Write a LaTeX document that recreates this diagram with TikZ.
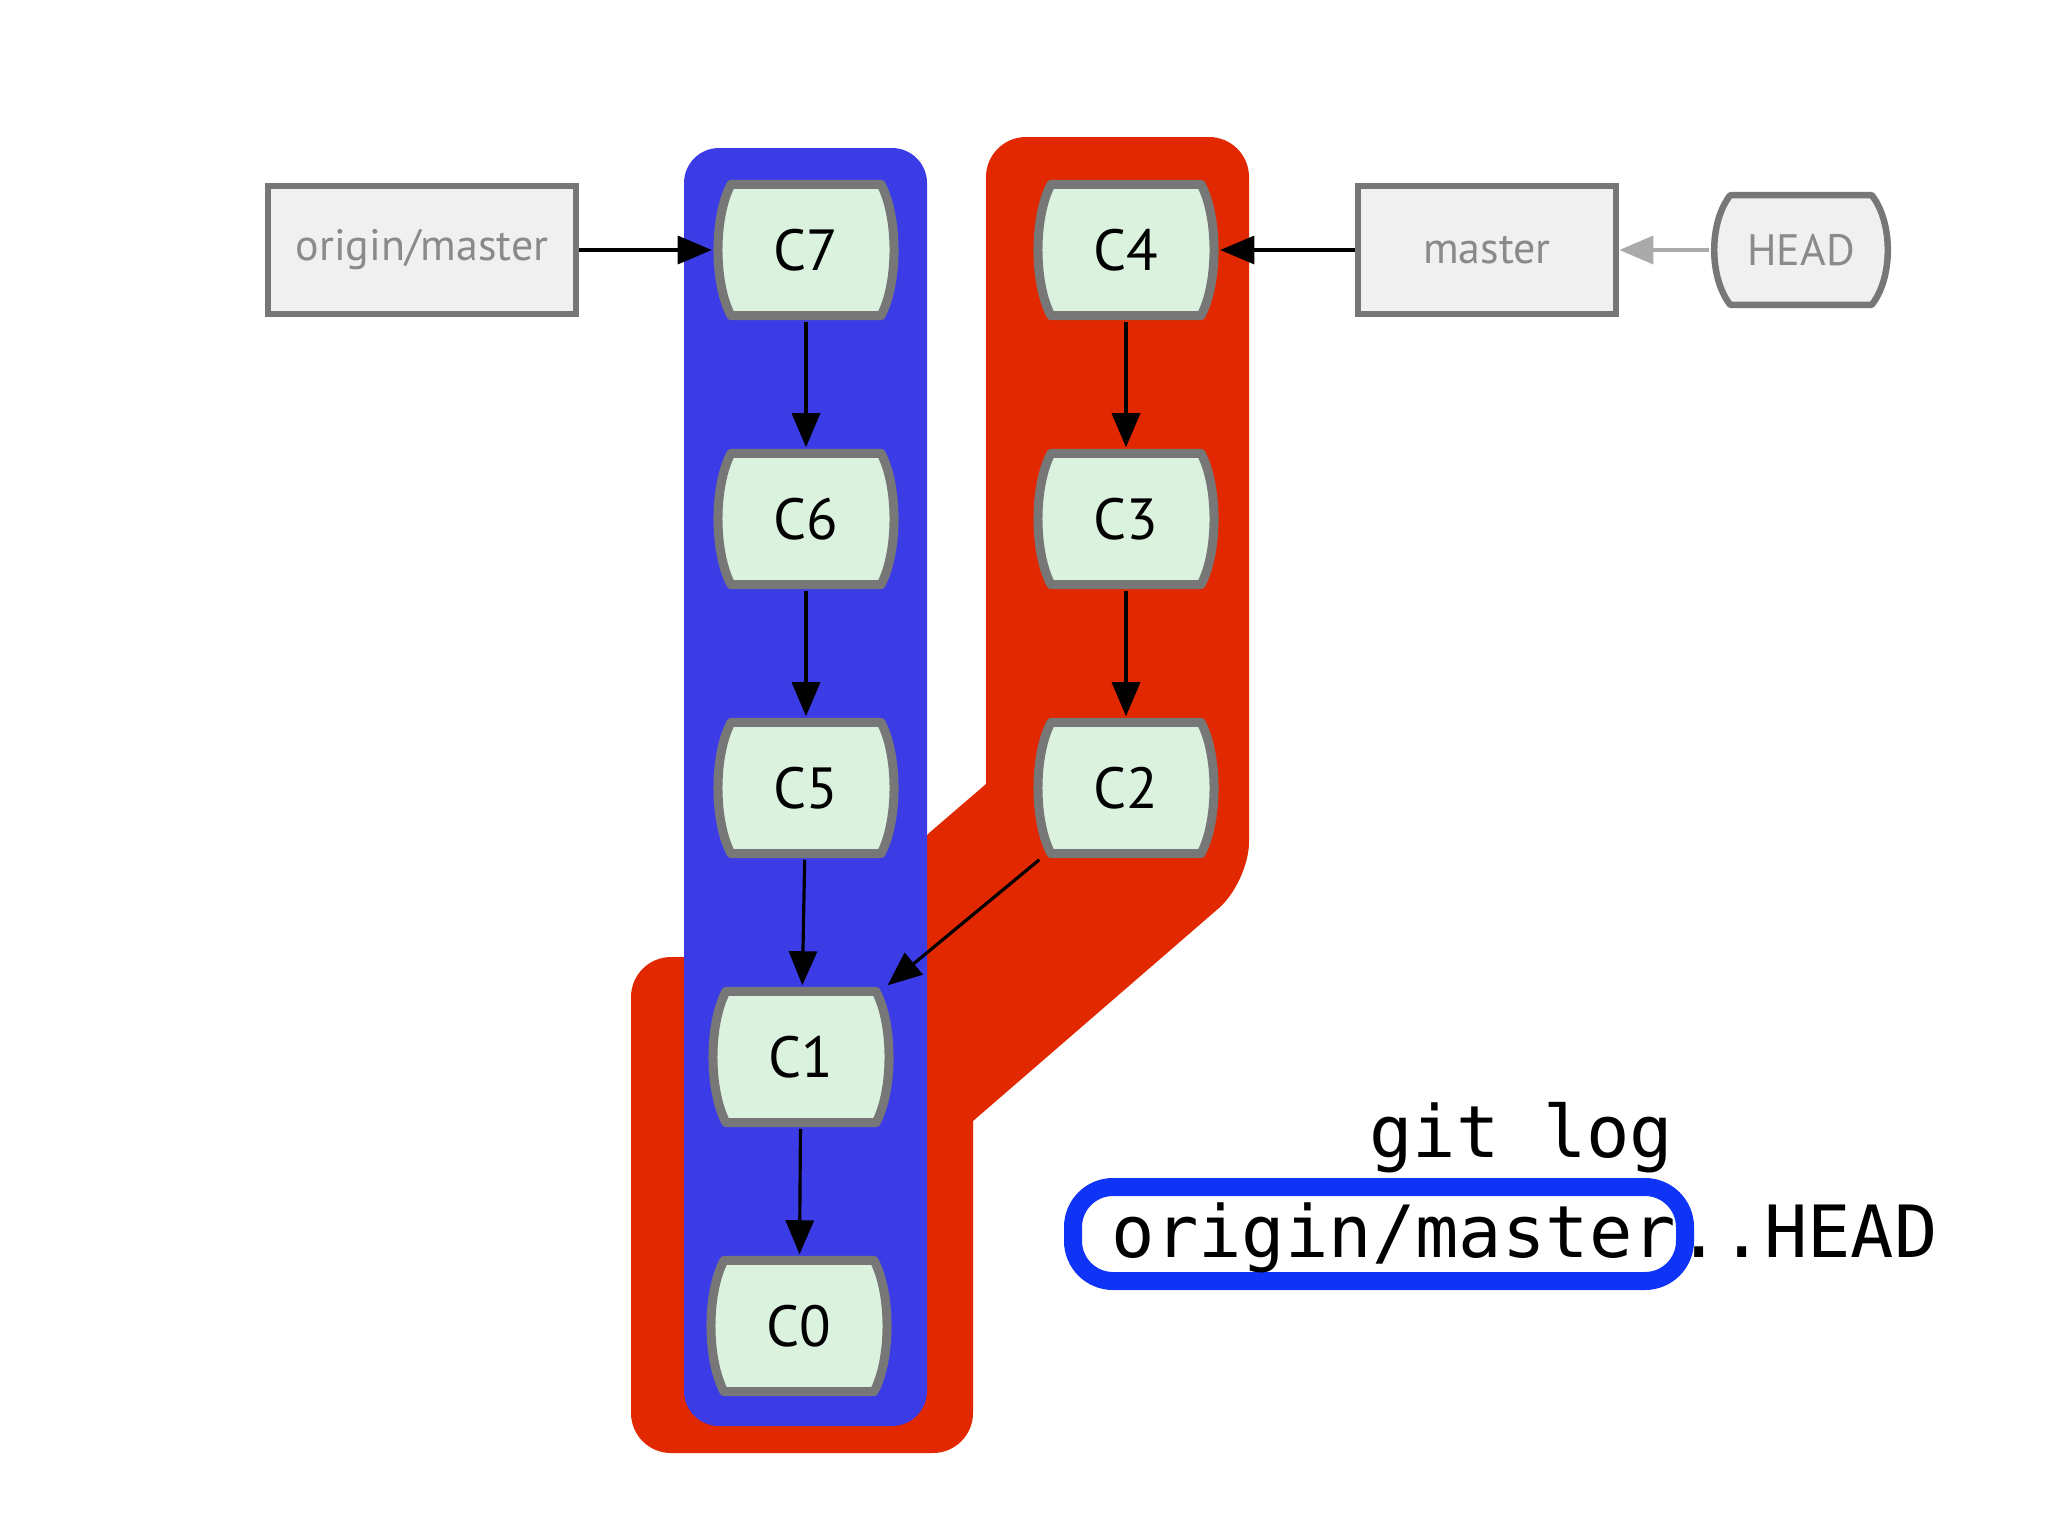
\documentclass[tikz,border=0pt]{standalone}
\usepackage{fontspec}
\setmainfont{PT Sans}
\newfontfamily\gitmono{DejaVu Sans Mono}
\usepackage{xcolor}
\usepackage{tikz}
\usetikzlibrary{arrows.meta}
\definecolor{commitfill}{HTML}{DBF2DE}
\definecolor{border}{HTML}{777777}
\definecolor{branchfill}{HTML}{F0F0F0}
\definecolor{branchtext}{HTML}{8A8A8A}
\definecolor{headarrow}{HTML}{AAAAAA}
\definecolor{logred}{HTML}{E22800}
\definecolor{logblue}{HTML}{3C3CE6}
\definecolor{hlblue}{HTML}{1034F7}
\pgfdeclarelayer{sets}
\pgfdeclarelayer{shapes}
\pgfsetlayers{sets,shapes,main}
\tikzset{
  commit/.style={rectangle, minimum width=1.87cm, minimum height=1.42cm, inner sep=0pt,
    font=\fontsize{16.5}{18}\selectfont},
  commitshape/.style={draw=border, fill=commitfill, line width=0.09cm, line join=round,
    insert path={(-0.75cm,0.655cm) -- (0.75cm,0.655cm)
      .. controls (0.923cm,0.3275cm) and (0.923cm,-0.3275cm) .. (0.75cm,-0.655cm)
      -- (-0.75cm,-0.655cm)
      .. controls (-0.923cm,-0.3275cm) and (-0.923cm,0.3275cm) .. cycle}},
  branch/.style={rectangle, draw=border, fill=branchfill, line width=0.065cm, text=branchtext,
    minimum height=1.28cm, inner sep=0pt, font=\fontsize{12.5}{14}\selectfont},
  headref/.style={rectangle, minimum width=1.82cm, minimum height=1.18cm, inner sep=0pt,
    text=branchtext, font=\fontsize{12.5}{14}\selectfont},
  headshape/.style={draw=border, fill=branchfill, line width=0.065cm, line join=round,
    insert path={(-0.7075cm,0.5475cm) -- (0.7075cm,0.5475cm)
      .. controls (0.9208cm,0.274cm) and (0.9208cm,-0.274cm) .. (0.7075cm,-0.5475cm)
      -- (-0.7075cm,-0.5475cm)
      .. controls (-0.9208cm,-0.274cm) and (-0.9208cm,0.274cm) .. cycle}},
  link/.style={draw=black, line width=0.9pt, -{Triangle[length=0.34cm,width=0.28cm]}},
  headlink/.style={link, draw=headarrow, line width=1.1pt},
  redset/.style={fill=logred},
  blueset/.style={fill=logblue, rounded corners=0.35cm},
  hl/.style={draw=hlblue, line width=0.18cm, rounded corners=0.4cm},
  cmd/.style={font=\gitmono\fontsize{20.5}{24}\selectfont, inner sep=0pt}
}

\begin{document}
\begin{tikzpicture}[x=0.01cm,y=-0.01cm]
  \useasboundingbox (0,0) rectangle (2048,1536);

  % the two sets of commits
  \begin{pgfonlayer}{sets}
  \fill[redset, rounded corners=0.4cm] (900,858) [sharp corners] -- (986,784)
    [rounded corners=0.4cm] -- (986,137) -- (1249,137) -- (1249,882)
    [sharp corners] -- (973,1121) [rounded corners=0.4cm] -- (973,1453)
    -- (631,1453) -- (631,957) -- (900,957) -- cycle;
  \fill[blueset] (684,148) rectangle (927,1426);
  \end{pgfonlayer}

  % the command
  \draw[hl] (1073,1187) rectangle (1685,1281);
  \node[cmd, anchor=base east] (gitlog) at (1674,1157) {git log};
  \node[cmd, anchor=base west] (range) at (1111,1257) {origin/master};
  \node[cmd, anchor=base west] (dots) at (range.base east) {..HEAD};

  \node[branch, minimum width=3.08cm] (origin) at (422,250) {origin/master};
  \node[branch, minimum width=2.58cm] (master) at (1487,250) {master};
  \node[headref] (head) at (1801,250) {HEAD};

  \node[commit] (C7) at (806,250) {C7};
  \node[commit] (C6) at (806,519) {C6};
  \node[commit] (C5) at (806,788) {C5};
  \node[commit] (C1) at (801,1057) {C1};
  \node[commit] (C0) at (799,1326) {C0};
  \node[commit] (C4) at (1126,250) {C4};
  \node[commit] (C3) at (1126,519) {C3};
  \node[commit] (C2) at (1126,788) {C2};

  \begin{pgfonlayer}{shapes}
  \foreach \c in {C7,C6,C5,C1,C0,C4,C3,C2}
    \path[shift={(\c)}, commitshape];
  \path[shift={(head)}, headshape];
  \end{pgfonlayer}

  \draw[link] (origin) -- (C7);
  \draw[link] (master) -- (C4);
  \draw[headlink] (head) -- (master);
  \draw[link] (C7) -- (C6);
  \draw[link] (C6) -- (C5);
  \draw[link] (C5) -- (C1);
  \draw[link] (C1) -- (C0);
  \draw[link] (C4) -- (C3);
  \draw[link] (C3) -- (C2);
  \draw[link] (C2) -- (C1);
\end{tikzpicture}
\end{document}
